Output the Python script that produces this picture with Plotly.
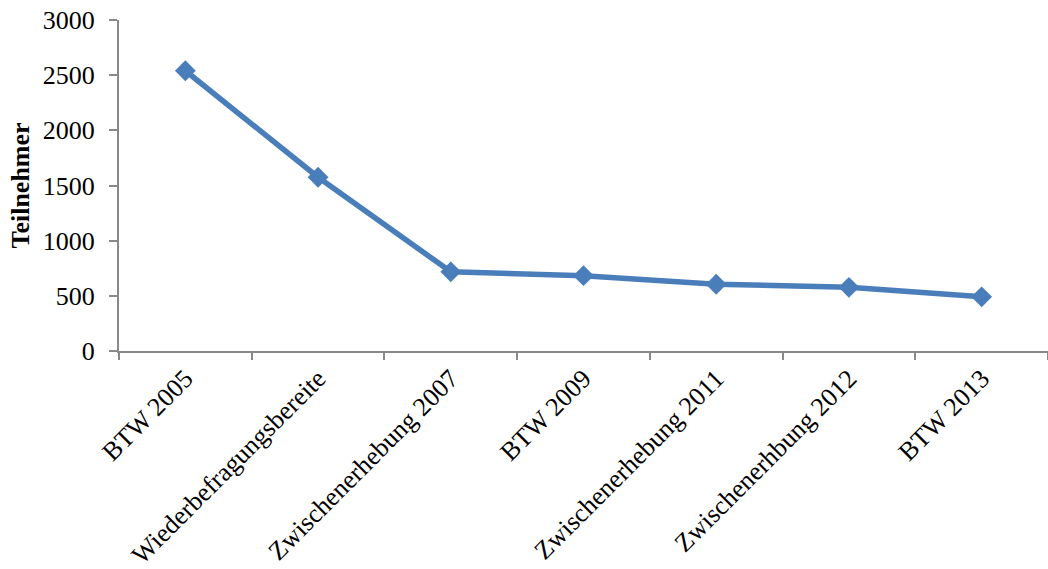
import plotly.graph_objects as go

# Teilnehmerzahlen je Erhebungswelle
wellen = [
    "BTW 2005",
    "Wiederbefragungsbereite",
    "Zwischenerhebung 2007",
    "BTW 2009",
    "Zwischenerhebung 2011",
    "Zwischenerhbung 2012",
    "BTW 2013",
]
teilnehmer = [2540, 1575, 718, 683, 605, 577, 491]

y_ticks = [0, 500, 1000, 1500, 2000, 2500, 3000]

serif = "Liberation Serif, Times New Roman, serif"
axis_grey = "#898989"
line_blue = "#4A7EBB"

fig = go.Figure(
    go.Scatter(
        x=wellen,
        y=teilnehmer,
        mode="lines+markers",
        line=dict(color=line_blue, width=5.5),
        marker=dict(symbol="diamond", size=16, color=line_blue),
        showlegend=False,
        hoverinfo="x+y",
    )
)

fig.update_layout(
    width=1048,
    height=569,
    margin=dict(l=119, r=0, t=20, b=218),
    paper_bgcolor="white",
    plot_bgcolor="white",
    font=dict(family=serif, color="black", size=26),
)

fig.update_xaxes(
    type="category",
    tickson="boundaries",
    ticks="outside",
    ticklen=7,
    tickwidth=1.5,
    tickcolor=axis_grey,
    showline=True,
    linecolor=axis_grey,
    linewidth=2,
    showgrid=False,
    zeroline=False,
    tickangle=-45,
    tickfont=dict(family=serif, size=26, color="black"),
    range=[-0.5, len(wellen) - 0.5],
)

fig.update_yaxes(
    range=[0, 3000],
    tickvals=y_ticks,
    ticks="outside",
    ticklen=8,
    tickwidth=1.5,
    tickcolor=axis_grey,
    showline=True,
    linecolor=axis_grey,
    linewidth=2,
    showgrid=False,
    zeroline=False,
    ticklabelstandoff=9,
    tickfont=dict(family=serif, size=26, color="black"),
    title=dict(
        text="<b>Teilnehmer</b>",
        font=dict(family=serif, size=26, color="black"),
        standoff=6,
    ),
)

fig.write_html("out.html")
